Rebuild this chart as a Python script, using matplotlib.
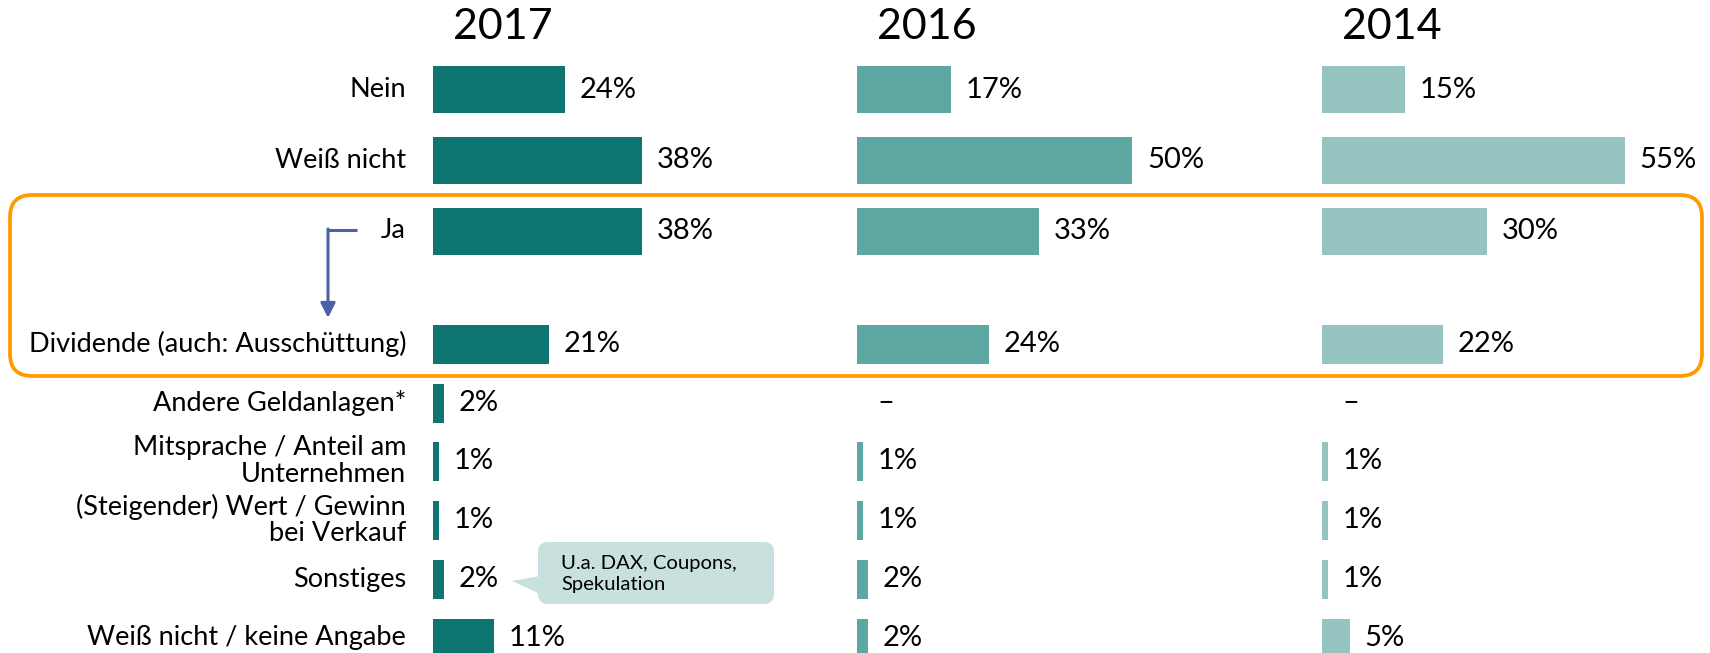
import matplotlib
matplotlib.use("Agg")
import matplotlib.pyplot as plt
from matplotlib.patches import FancyBboxPatch, Polygon

plt.rcParams["font.family"] = ["Lato", "DejaVu Sans"]

# data
CATEGORIES = [
    "Nein",
    "Weiß nicht",
    "Ja",
    "Dividende (auch: Ausschüttung)",
    "Andere Geldanlagen*",
    "Mitsprache / Anteil am\nUnternehmen",
    "(Steigender) Wert / Gewinn\nbei Verkauf",
    "Sonstiges",
    "Weiß nicht / keine Angabe",
]
YEARS = ["2017", "2016", "2014"]
VALUES_2017 = [24, 38, 38, 21, 2, 1, 1, 2, 11]
VALUES_2016 = [17, 50, 33, 24, None, 1, 1, 2, 2]
VALUES_2014 = [15, 55, 30, 22, None, 1, 1, 1, 5]
CALLOUT_TEXT = "U.a. DAX, Coupons,\nSpekulation"

# layout (pixels of the 1710x653 canvas)
W, H = 1710, 653
PX_PER_PCT = 5.5
GROUP_LEFT = [433, 857, 1322]
ROW_Y = [89.5, 160, 231, 344, 403, 461, 520, 579, 638]
ROW_H = [47, 47, 47, 39, 39, 39, 39, 39, 39]
COLORS = ["#0F7570", "#5DA8A3", "#95C4C1"]
LABEL_X = 406
VALUE_GAP = 15


def year_axes(fig, left_px):
    # full-canvas axes, x in percent, x=0 at the group's bar start
    ax = fig.add_axes([0, 0, 1, 1])
    ax.set_xlim(-left_px / PX_PER_PCT, (W - left_px) / PX_PER_PCT)
    ax.set_ylim(H, 0)
    ax.axis("off")
    ax.patch.set_alpha(0)
    return ax


def draw_group(fig, left_px, year, values, color):
    ax = year_axes(fig, left_px)
    heights = [0 if v is None else v for v in values]
    ax.barh(ROW_Y, heights, height=ROW_H, left=0, color=color, edgecolor="none")
    off = VALUE_GAP / PX_PER_PCT
    for y, v in zip(ROW_Y, values):
        if v is None:
            ax.text(off + 1, y, "–", ha="left", va="center", fontsize=21)
        else:
            ax.text(v + off, y, f"{v}%", ha="left", va="center", fontsize=21)
    ax.text(70 / PX_PER_PCT, 27, year, ha="center", va="center", fontsize=31)


fig = plt.figure(figsize=(W / 100, H / 100), dpi=100)
fig.patch.set_facecolor("white")

# overlay axes in pixel coordinates for labels and decorations
ov = fig.add_axes([0, 0, 1, 1])
ov.set_xlim(0, W)
ov.set_ylim(H, 0)
ov.axis("off")

for cat, y in zip(CATEGORIES, ROW_Y):
    ov.text(LABEL_X, y, cat, ha="right", va="center", fontsize=19.5,
            linespacing=1.05)

# orange highlight box around Ja / Dividende
ov.add_patch(FancyBboxPatch((10, 195), 1692, 181,
                            boxstyle="round,pad=0,rounding_size=22",
                            facecolor="none", edgecolor="#FF9A00", lw=2.7))

# blue arrow from Ja down to Dividende
ov.plot([328, 357], [230, 230], color="#4A63A8", lw=2.2, solid_capstyle="butt")
ov.annotate("", xy=(328, 318), xytext=(328, 229),
            arrowprops=dict(arrowstyle="-|>", color="#4A63A8", lw=2.2,
                            mutation_scale=22, shrinkA=0, shrinkB=0))

# callout next to Sonstiges
ov.add_patch(FancyBboxPatch((538, 542), 236, 62,
                            boxstyle="round,pad=0,rounding_size=10",
                            facecolor="#C8E1DF", edgecolor="none"))
ov.add_patch(Polygon([[512, 581], [540, 576], [540, 594]], closed=True,
                     facecolor="#C8E1DF", edgecolor="none"))
ov.text(561, 574, CALLOUT_TEXT, ha="left", va="center", fontsize=14.6,
        linespacing=1.3)

for left, year, vals, col in zip(GROUP_LEFT, YEARS,
                                 [VALUES_2017, VALUES_2016, VALUES_2014], COLORS):
    draw_group(fig, left, year, vals, col)

fig.savefig("out.png", dpi=100)
